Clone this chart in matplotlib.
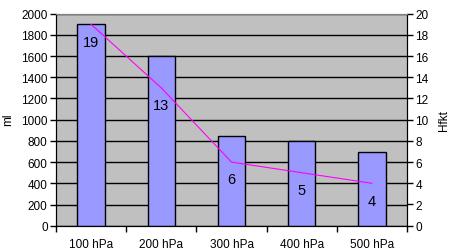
import numpy as np
import matplotlib.pyplot as plt

# data
categories = ['100 hPa', '200 hPa', '300 hPa', '400 hPa', '500 hPa']
ml = [1900, 1600, 850, 800, 700]
hfkt = [19, 13, 6, 5, 4]

plt.rcParams['font.family'] = ['Liberation Sans', 'DejaVu Sans']
plt.rcParams['font.size'] = 8.5

fig = plt.figure(figsize=(4.49, 2.53), dpi=100)
ax = fig.add_axes([56/449, 1 - 226.7/253, 351/449, 212/253])
ax.set_facecolor('#C0C0C0')

x = np.arange(len(categories))
ax.bar(x, ml, width=0.39, color='#9999FF', edgecolor='black', linewidth=1, zorder=3)
ax.set_xlim(-0.5, len(categories) - 0.5)
ax.set_ylim(0, 2000)
ax.set_yticks(np.arange(0, 2001, 200))
ax.yaxis.grid(True, color='black', linewidth=1, zorder=1)
ax.set_axisbelow(True)
ax.set_xticks(x)
ax.set_xticklabels(categories)
ax.set_xticks(np.arange(-0.5, len(categories), 1), minor=True)
ax.tick_params(axis='x', which='major', length=0, pad=9)
ax.tick_params(axis='x', which='minor', length=4, direction='out', width=1)
ax.tick_params(axis='y', length=4, direction='out', width=1, pad=2)
ax.set_ylabel('ml')
ax.yaxis.set_label_coords(-0.12, 0.503)

for s in ['left', 'bottom', 'right']:
    ax.spines[s].set_color('black')
ax.spines['top'].set_color('#808080')

ax2 = ax.twinx()
ax2.plot(x, hfkt, color='#FF00FF', linewidth=0.8, zorder=4)
ax2.set_ylim(0, 20)
ax2.set_yticks(np.arange(0, 21, 2))
ax2.tick_params(axis='y', length=4, direction='out', width=1, pad=2)
ax2.set_ylabel('Hfkt')
ax2.yaxis.set_label_coords(1.088, 0.503)
ax2.spines['top'].set_color('#808080')
for xi, v in zip(x, hfkt):
    ax2.annotate(str(v), (xi, v), xytext=(0, -12.5), textcoords='offset points',
                 ha='center', va='center', fontsize=10.5)

fig.savefig('out.png', dpi=100)
